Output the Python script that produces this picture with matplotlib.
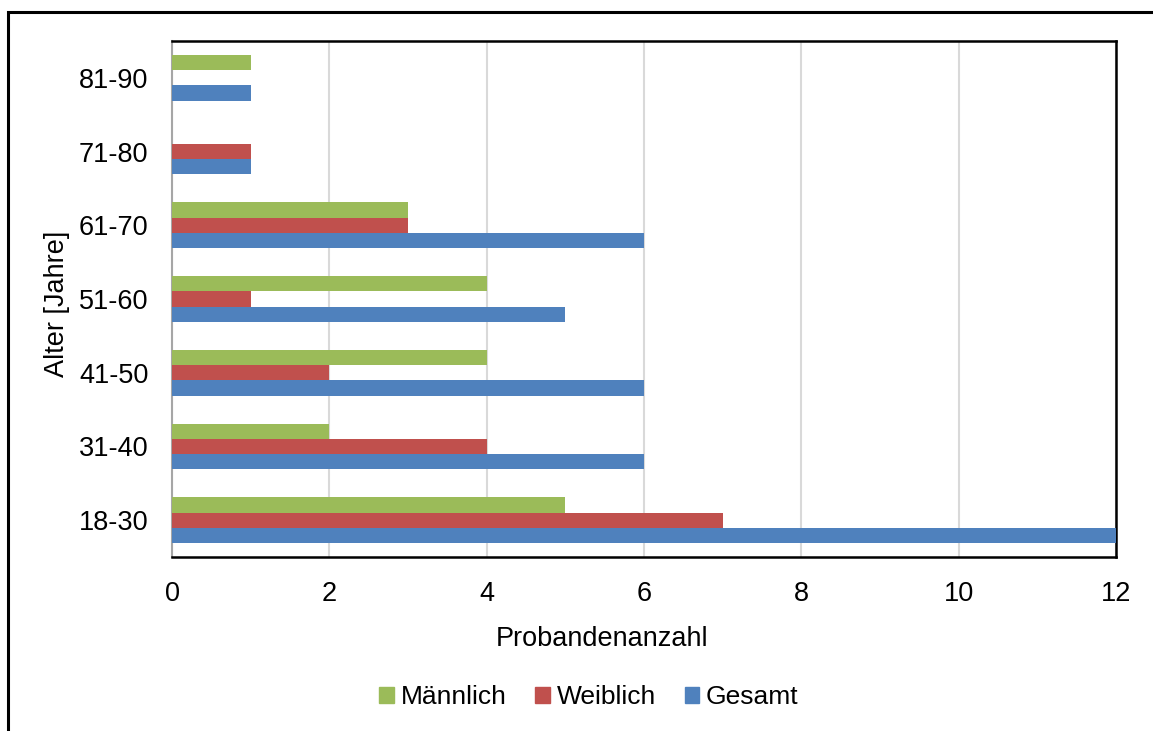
import matplotlib.pyplot as plt
from matplotlib.patches import Patch, Rectangle
import numpy as np

plt.rcParams['font.family'] = ['Liberation Sans', 'DejaVu Sans']

# age groups and counts per group
altersgruppen = ['18-30', '31-40', '41-50', '51-60', '61-70', '71-80', '81-90']
maennlich = [5, 2, 4, 4, 3, 0, 1]
weiblich = [7, 4, 2, 1, 3, 1, 0]
gesamt = [12, 6, 6, 5, 6, 1, 1]

farben = {'Männlich': '#9BBB59', 'Weiblich': '#C0504D', 'Gesamt': '#4F81BD'}

fig = plt.figure(figsize=(11.53, 7.31), dpi=100)
ax = fig.add_axes([172 / 1153, 1 - 557 / 731, 944 / 1153, 516 / 731])

y = np.arange(len(altersgruppen))
h = 0.207
ax.barh(y - h, gesamt, height=h, color=farben['Gesamt'], zorder=3)
ax.barh(y, weiblich, height=h, color=farben['Weiblich'], zorder=3)
ax.barh(y + h, maennlich, height=h, color=farben['Männlich'], zorder=3)

ax.set_xlim(0, 12)
ax.set_ylim(-0.5, len(altersgruppen) - 0.5)
ax.set_xticks(range(0, 13, 2))
ax.set_yticks(y)
ax.set_yticklabels(altersgruppen)
ax.tick_params(axis='both', length=0, labelsize=19.5, pad=17)
ax.xaxis.grid(True, color='#d9d9d9', linewidth=1.5, zorder=0)

for side in ['top', 'right', 'bottom']:
    ax.spines[side].set_color('black')
    ax.spines[side].set_linewidth(1.8)
ax.spines['left'].set_color('#a6a6a6')
ax.spines['left'].set_linewidth(1.5)

ax.set_xlabel('Probandenanzahl', fontsize=19.5)
ax.xaxis.set_label_coords(0.4555, -0.133)
ax.set_ylabel('Alter [Jahre]', fontsize=19.5)
ax.yaxis.set_label_coords(-0.108, 0.49)

handles = [Patch(color=farben[k]) for k in ['Männlich', 'Weiblich', 'Gesamt']]
fig.legend(handles, ['Männlich', 'Weiblich', 'Gesamt'], loc='center',
           bbox_to_anchor=(589 / 1153, 1 - 697 / 731), ncol=3, frameon=False,
           fontsize=19, handlelength=0.55, handleheight=0.55, handletextpad=0.25,
           columnspacing=1.1)

# outer frame around the whole chart
fig.patches.append(Rectangle((8 / 1153, -0.2), 1.2, 1.2 - 12 / 731, transform=fig.transFigure,
                             fill=False, edgecolor='black', linewidth=2.2))

fig.savefig('out.png', dpi=100)
